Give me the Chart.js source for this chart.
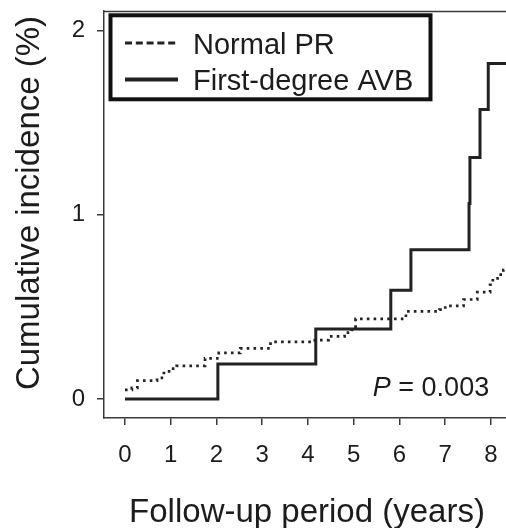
<!DOCTYPE html>
<html>
<head>
<meta charset="utf-8">
<script src="https://cdn.jsdelivr.net/npm/chart.js@4/dist/chart.umd.min.js"></script>
<style>
  html, body { margin: 0; padding: 0; background: #fff; }
  #wrap { width: 506px; height: 528px; }
</style>
</head>
<body>
<div id="wrap"><canvas id="incidence_chart"></canvas></div>
<script>
// values
const xTicks = [0, 1, 2, 3, 4, 5, 6, 7, 8];
const yTicks = [0, 1, 2];

const normalYears = [0, 0.15, 0.27, 0.7, 0.85, 1.02, 1.13, 1.75, 2.05, 2.52, 3.18, 4.15, 4.45, 4.8, 4.95, 5.04, 6.14, 6.87, 7.0, 7.4, 7.7, 7.98, 8.04, 8.18, 8.27, 8.5];
const normalIncidence = [0.05, 0.06, 0.1, 0.115, 0.15, 0.165, 0.18, 0.22, 0.25, 0.275, 0.31, 0.32, 0.34, 0.36, 0.375, 0.435, 0.475, 0.485, 0.505, 0.54, 0.58, 0.62, 0.655, 0.675, 0.7, 0.71];

const avbYears = [0, 2.03, 4.17, 5.81, 6.25, 7.52, 7.54, 7.76, 7.94, 8.5];
const avbIncidence = [0, 0.19, 0.38, 0.59, 0.81, 1.06, 1.31, 1.57, 1.82, 1.82];

const xTitle = "Follow-up period (years)";
const yTitle = "Cumulative incidence (%)";
const pValue = "0.003";

(function () {
  const grapharea = document.getElementById("incidence_chart");
  const ink = "#1c1c1c";
  const axisColor = "#3a3a3a";
  const family = "'Liberation Sans', Arial, sans-serif";

  const toPoints = (xs, ys) => xs.map((x, i) => ({ x: x, y: ys[i] }));
  const noPad = (s) => {
    s.paddingLeft = 0;
    s.paddingRight = 0;
    s.paddingTop = 0;
    s.paddingBottom = 0;
  };

  const data = {
    datasets: [
      {
        label: "Normal PR",
        data: toPoints(normalYears, normalIncidence),
        stepped: true,
        borderColor: "#222",
        borderWidth: 2.7,
        borderDash: [2.6, 4.2],
        pointRadius: 0,
        fill: false,
        legendDash: [7, 3.8],
      },
      {
        label: "First-degree AVB",
        data: toPoints(avbYears, avbIncidence),
        stepped: true,
        borderColor: "#222",
        borderWidth: 3,
        pointRadius: 0,
        fill: false,
        legendDash: [],
      },
    ],
  };

  const extras = {
    id: "extras",
    afterDraw(chart) {
      const ctx = chart.ctx;
      const area = chart.chartArea;
      const xs = chart.scales.x;
      ctx.save();

      // top frame line
      ctx.strokeStyle = axisColor;
      ctx.lineWidth = 1.5;
      ctx.beginPath();
      ctx.moveTo(area.left, area.top + 0.5);
      ctx.lineTo(area.right, area.top + 0.5);
      ctx.stroke();

      // legend box
      ctx.strokeStyle = "#111";
      ctx.lineWidth = 4;
      ctx.strokeRect(110.5, 15.3, 320, 84);
      const rows = [43, 79.5];
      chart.data.datasets.forEach((ds, i) => {
        ctx.strokeStyle = ds.borderColor;
        ctx.lineWidth = i === 0 ? 3 : 4;
        ctx.setLineDash(ds.legendDash);
        ctx.beginPath();
        ctx.moveTo(125, rows[i]);
        ctx.lineTo(178, rows[i]);
        ctx.stroke();
        ctx.setLineDash([]);
        ctx.fillStyle = ink;
        ctx.font = "29px " + family;
        ctx.textAlign = "left";
        ctx.textBaseline = "alphabetic";
        ctx.fillText(ds.label, 193, rows[i] + 10.5);
      });

      // P value
      ctx.font = "27px " + family;
      ctx.textAlign = "right";
      const right = xs.getPixelForValue(7.96);
      const rest = " = " + pValue;
      ctx.fillText(rest, right, 396);
      const w = ctx.measureText(rest).width;
      ctx.font = "italic 27px " + family;
      ctx.fillText("P", right - w, 396);

      // axis titles
      ctx.font = "33px " + family;
      ctx.textAlign = "center";
      ctx.fillText(xTitle, 307, 522);
      ctx.translate(38.5, 203);
      ctx.rotate(-Math.PI / 2);
      ctx.fillText(yTitle, 0, 0);
      ctx.restore();
    },
  };

  const config = {
    type: "line",
    data: data,
    options: {
      animation: false,
      responsive: true,
      maintainAspectRatio: false,
      layout: { padding: { top: 11, right: 0, bottom: 0, left: 0 } },
      scales: {
        x: {
          type: "linear",
          min: -0.459,
          max: 8.328,
          afterBuildTicks: (s) => { s.ticks = xTicks.map((v) => ({ value: v })); },
          afterFit: (s) => { s.height = 110; noPad(s); },
          grid: { drawOnChartArea: false, tickLength: 7, lineWidth: 1.5, color: axisColor },
          border: { color: axisColor, width: 1.5 },
          ticks: { color: ink, padding: 16, font: { size: 24, family: family }, maxRotation: 0 },
        },
        y: {
          min: -0.103,
          max: 2.105,
          afterBuildTicks: (s) => { s.ticks = yTicks.map((v) => ({ value: v })); },
          afterFit: (s) => { s.width = 104; noPad(s); },
          grid: { drawOnChartArea: false, tickLength: 7, lineWidth: 1.5, color: axisColor },
          border: { color: axisColor, width: 1.5 },
          ticks: { color: ink, padding: 12, font: { size: 24, family: family } },
        },
      },
      plugins: {
        legend: { display: false },
        tooltip: { enabled: false },
      },
    },
    plugins: [extras],
  };

  new Chart(grapharea, config);
})();
</script>
</body>
</html>
